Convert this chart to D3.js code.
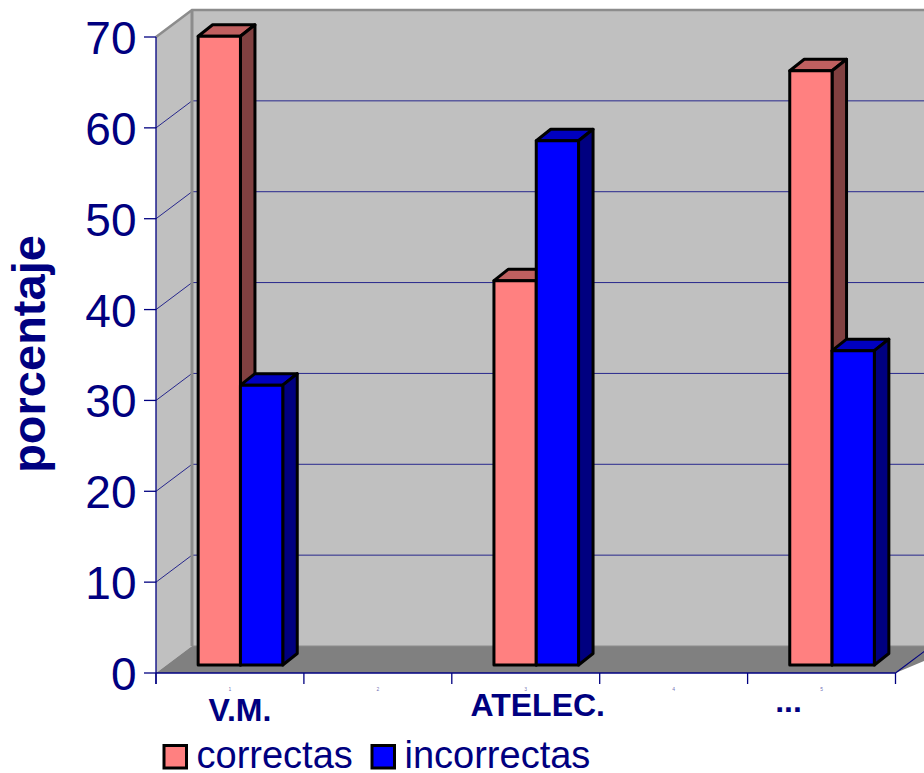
<!DOCTYPE html>
<html>
<head>
<meta charset="utf-8">
<script src="https://cdnjs.cloudflare.com/ajax/libs/d3/7.8.5/d3.min.js"></script>
<style>
html,body{margin:0;padding:0;background:#fff;overflow:hidden}
svg{display:block}
text{font-family:"Liberation Sans",Arial,sans-serif;fill:#000080}
</style>
</head>
<body>
<svg id="chart" width="924" height="773"></svg>
<script>
// Answer shares per group, in percent.
const categories = ["V.M.", "", "ATELEC.", "", "..."];
const slotNumbers = ["1", "2", "3", "4", "5"];
const seriesNames = ["correctas", "incorrectas"];
const correctas = [69.2, null, 42.3, null, 65.4];
const incorrectas = [30.8, null, 57.7, null, 34.6];
const yTicks = [0, 10, 20, 30, 40, 50, 60, 70];
const faceColors = ["#ff8080", "#0000ff"];
const topColors = ["#c06060", "#0000c0"];
const sideColors = ["#804040", "#000080"];

const navy = "#000080";
const svg = d3.select("#chart");

// Front plane of the 3D box and the offset of its back wall.
const plot = {left: 156, right: 895.5, top: 37, bottom: 673};
const wall = {dx: 36, dy: -27};
const barDepth = {dx: 14.5, dy: -11.5};
const barInset = {dx: 10.5, dy: -8};

const x = d3.scaleBand().domain(d3.range(categories.length)).range([plot.left, plot.right]);
const y = d3.scaleLinear().domain([0, 70]).range([plot.bottom, plot.top]);
const barWidth = 42.3;

const poly = (pts, fill, stroke, sw) => svg.append("polygon")
  .attr("points", pts.map(p => p.join(",")).join(" "))
  .attr("fill", fill).attr("stroke", stroke || "none").attr("stroke-width", sw || 0)
  .attr("stroke-linejoin", "round");

// Walls and floor
const W = 960;
poly([[plot.left + wall.dx, y(70) + wall.dy], [W, y(70) + wall.dy], [W, y(0) + wall.dy], [plot.left + wall.dx, y(0) + wall.dy]], "#c0c0c0");
poly([[plot.left, y(70)], [plot.left + wall.dx, y(70) + wall.dy], [plot.left + wall.dx, y(0) + wall.dy], [plot.left, y(0)]], "#c0c0c0");
poly([[plot.left, y(0)], [plot.left + wall.dx, y(0) + wall.dy], [W, y(0) + wall.dy], [plot.right, y(0)]], "#808080");

// Gridlines across the left and back walls
yTicks.slice(1, -1).forEach(t => {
  svg.append("polyline")
    .attr("points", [[plot.left, y(t)], [plot.left + wall.dx, y(t) + wall.dy], [W, y(t) + wall.dy]].map(p => p.join(",")).join(" "))
    .attr("fill", "none").attr("stroke", navy).attr("stroke-width", 1).attr("stroke-opacity", 0.8);
});

// Wall edges
svg.append("polyline")
  .attr("points", [[plot.left, y(70)], [plot.left + wall.dx, y(70) + wall.dy], [W, y(70) + wall.dy]].map(p => p.join(",")).join(" "))
  .attr("fill", "none").attr("stroke", "#8c8c8c").attr("stroke-width", 2.5);
svg.append("line")
  .attr("x1", plot.left + wall.dx).attr("x2", plot.left + wall.dx)
  .attr("y1", y(70) + wall.dy).attr("y2", y(0) + wall.dy)
  .attr("stroke", "#8c8c8c").attr("stroke-width", 3);
svg.append("line")
  .attr("x1", plot.left + wall.dx).attr("x2", W)
  .attr("y1", y(0) + wall.dy).attr("y2", y(0) + wall.dy)
  .attr("stroke", "#8c8c8c").attr("stroke-width", 1);

// Axis lines with outward ticks
svg.append("line").attr("x1", plot.left).attr("x2", plot.left).attr("y1", plot.top).attr("y2", plot.bottom + 11).attr("stroke", navy).attr("stroke-width", 1.3);
svg.append("line").attr("x1", plot.left).attr("x2", plot.right).attr("y1", plot.bottom).attr("y2", plot.bottom).attr("stroke", navy).attr("stroke-width", 1.3);
svg.append("line").attr("x1", plot.right).attr("x2", W).attr("y1", plot.bottom).attr("y2", plot.bottom + (W - plot.right) * wall.dy / wall.dx).attr("stroke", navy).attr("stroke-width", 1.2);

svg.selectAll(".ytick").data(yTicks).enter().append("line")
  .attr("x1", plot.left - 12).attr("x2", plot.left)
  .attr("y1", d => y(d)).attr("y2", d => y(d))
  .attr("stroke", navy).attr("stroke-width", 1.3);
svg.selectAll(".ylabel").data(yTicks).enter().append("text")
  .attr("x", plot.left - 19.5).attr("y", d => y(d) + 17)
  .attr("text-anchor", "end").attr("font-size", 46).text(d => d);

svg.selectAll(".xtick").data(d3.range(categories.length + 1)).enter().append("line")
  .attr("x1", d => plot.left + d * x.step()).attr("x2", d => plot.left + d * x.step())
  .attr("y1", plot.bottom).attr("y2", plot.bottom + 11)
  .attr("stroke", navy).attr("stroke-width", 1.3);

// Bars: pairs of boxes, each with front, top and side faces
[correctas, incorrectas].forEach((vals, s) => {
  vals.forEach((v, i) => {
    if (v === null) return;
    const x0 = x(i) + barInset.dx + (x.step() - 2 * barWidth) / 2 + s * barWidth;
    const x1 = x0 + barWidth;
    const yb = y(0) + barInset.dy;
    const yt = y(v) + barInset.dy;
    const d = barDepth;
    poly([[x0, yt], [x0 + d.dx, yt + d.dy], [x1 + d.dx, yt + d.dy], [x1, yt]], topColors[s], "#000", 3);
    poly([[x1, yt], [x1 + d.dx, yt + d.dy], [x1 + d.dx, yb + d.dy], [x1, yb]], sideColors[s], "#000", 3);
    poly([[x0, yt], [x1, yt], [x1, yb], [x0, yb]], faceColors[s], "#000", 3);
  });
});

// Tiny slot numbers under the axis
slotNumbers.forEach((n, i) => {
  svg.append("text")
    .attr("x", x(i) + x.step() / 2).attr("y", 691)
    .attr("text-anchor", "middle").attr("font-size", 5).attr("fill-opacity", 0.6)
    .text(n);
});

// Category labels
const labelShift = [10, 0, 12, 0, -33];
const labelY = [721, 0, 716, 0, 712];
categories.forEach((c, i) => {
  if (!c) return;
  svg.append("text")
    .attr("x", x(i) + x.step() / 2 + labelShift[i])
    .attr("y", labelY[i])
    .attr("text-anchor", "middle").attr("font-size", 32).attr("font-weight", "bold")
    .text(c);
});

// Axis title
svg.append("text")
  .attr("transform", "translate(45,354) rotate(-90)")
  .attr("text-anchor", "middle").attr("font-size", 47).attr("font-weight", "bold")
  .text("porcentaje");

// Legend
const legendX = [162, 370];
seriesNames.forEach((name, s) => {
  svg.append("rect").attr("x", legendX[s] + 2).attr("y", 745.5).attr("width", 22.5).attr("height", 22.5)
    .attr("fill", faceColors[s]).attr("stroke", "#000").attr("stroke-width", 3);
  svg.append("text").attr("x", legendX[s] + 34.5).attr("y", 768).attr("font-size", 38).text(name);
});
</script>
</body>
</html>
